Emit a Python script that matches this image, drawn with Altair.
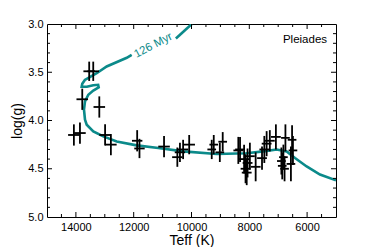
import altair as alt
import pandas as pd

# ---- data ----
# Stars: Teff (K), log(g), and their errors
star_teff = [13540, 13400, 13780, 13190, 14070, 13860, 12990, 12790, 11880, 11800,
             10950, 10490, 10400, 10290, 10080, 9300, 9230, 9020, 8920,
             8380, 8320, 8180, 8130, 8090, 8060, 7980, 7780,
             7560, 7480, 7400, 7290, 7080,
             6890, 6860, 6820, 6780, 6750, 6560, 6520, 6490]
star_logg = [3.49, 3.49, 3.78, 3.86, 4.15, 4.13, 4.15, 4.25, 4.21, 4.29,
             4.27, 4.38, 4.33, 4.30, 4.25, 4.30, 4.25, 4.33, 4.22,
             4.31, 4.30, 4.40, 4.50, 4.54, 4.44, 4.37, 4.48,
             4.39, 4.30, 4.24, 4.21, 4.17,
             4.42, 4.47, 4.38, 4.50, 4.18, 4.45, 4.20, 4.31]
star_eteff = [200, 200, 200, 200, 200, 200, 200, 200, 180, 180,
              200, 180, 180, 180, 200, 150, 150, 150, 150,
              170, 170, 170, 170, 170, 170, 170, 170,
              170, 170, 170, 170, 170,
              150, 150, 150, 150, 150, 150, 150, 150]
star_elogg = [0.10, 0.10, 0.11, 0.11, 0.11, 0.11, 0.11, 0.11, 0.11, 0.10,
              0.11, 0.10, 0.10, 0.10, 0.10, 0.10, 0.10, 0.10, 0.10,
              0.14, 0.13, 0.15, 0.15, 0.13, 0.15, 0.14, 0.15,
              0.12, 0.14, 0.13, 0.11, 0.13,
              0.14, 0.14, 0.13, 0.13, 0.14, 0.18, 0.15, 0.15]

# 126 Myr isochrone, two pieces (gap where the label sits)
iso1_teff = [9990, 10540]
iso1_logg = [3.00, 3.15]
iso2_teff = [12070, 12240, 12935, 13280, 13520, 13690, 13780, 13800, 13620, 13400,
             13230, 13211, 13398, 13571, 13685, 13720, 13685, 13626, 13398, 13052,
             12588, 11896, 11149, 10284, 9128, 8093, 7516, 7053, 6707, 6419,
             6015, 5554, 5000]
iso2_logg = [3.32, 3.35, 3.44, 3.51, 3.55, 3.58, 3.62, 3.65, 3.65, 3.635,
             3.63, 3.657, 3.69, 3.733, 3.802, 3.888, 3.992, 4.044, 4.113, 4.165,
             4.217, 4.258, 4.285, 4.32, 4.347, 4.34, 4.32, 4.30, 4.32, 4.389,
             4.476, 4.56, 4.62]

iso_label = "126 Myr"
iso_label_teff = 11320
iso_label_logg = 3.225
cluster_name = "Pleiades"
cluster_teff = 5310
cluster_logg = 3.20

x_major = [6000, 8000, 10000, 12000, 14000]
x_minor = [5500, 6500, 7000, 7500, 8500, 9000, 9500, 10500, 11000, 11500,
           12500, 13000, 13500, 14500]
y_major = [3.5, 4.0, 4.5]
y_minor = [3.1, 3.2, 3.3, 3.4, 3.6, 3.7, 3.8, 3.9, 4.1, 4.2, 4.3, 4.4,
           4.6, 4.7, 4.8, 4.9]
y_labels = [3.0, 3.5, 4.0, 4.5, 5.0]

# ---- build tables ----
W, H = 289, 193
TEAL = "#0b8a8a"
FONT = "Liberation Sans"

stars = pd.DataFrame({"teff": star_teff, "logg": star_logg,
                      "et": star_eteff, "eg": star_elogg})
stars["tlo"] = stars.teff - stars.et
stars["thi"] = stars.teff + stars.et
stars["glo"] = stars.logg - stars.eg
stars["ghi"] = stars.logg + stars.eg

iso = pd.concat([
    pd.DataFrame({"teff": iso1_teff, "logg": iso1_logg, "seg": "a",
                  "i": range(len(iso1_teff))}),
    pd.DataFrame({"teff": iso2_teff, "logg": iso2_logg, "seg": "b",
                  "i": range(len(iso2_teff))}),
])

xs = alt.Scale(domain=[5000, 15000], reverse=True, nice=False, zero=False)
ys = alt.Scale(domain=[3.0, 5.0], reverse=True, nice=False, zero=False)

x_axis = alt.Axis(title="Teff (K)", values=x_major, format="d", grid=False,
                  ticks=False, tickSize=0, domain=False, labelFontSize=11,
                  labelFont=FONT, labelColor="black", labelPadding=4,
                  titleFont=FONT, titleFontSize=14, titleFontWeight="normal",
                  titleColor="black", titleY=27, titleBaseline="alphabetic")
y_axis = alt.Axis(title="log(g)", values=y_labels, format=".1f", grid=False,
                  ticks=False, tickSize=0, domain=False, labelFontSize=11,
                  labelFont=FONT, labelColor="black", labelPadding=4,
                  titleFont=FONT, titleFontSize=14, titleFontWeight="normal",
                  titleColor="black", titleX=-26, titleY=H / 2,
                  titleAngle=270, titleAlign="center",
                  titleBaseline="alphabetic")


def X(f):
    return alt.X(f, scale=xs, axis=x_axis)


def Y(f):
    return alt.Y(f, scale=ys, axis=y_axis)


line = alt.Chart(iso).mark_line(color=TEAL, strokeWidth=2.6, clip=True).encode(
    x=X("teff:Q"), y=Y("logg:Q"), detail="seg:N", order="i:Q",
)

hbar = alt.Chart(stars).mark_rule(color="black", strokeWidth=1.8).encode(
    x=X("tlo:Q"), x2="thi:Q", y=Y("logg:Q"),
)
vbar = alt.Chart(stars).mark_rule(color="black", strokeWidth=1.8).encode(
    x=X("teff:Q"), y=Y("glo:Q"), y2="ghi:Q",
)

lab = alt.Chart(pd.DataFrame({"t": [iso_label], "x": [iso_label_teff],
                              "y": [iso_label_logg]})).mark_text(
    color=TEAL, fontSize=11.5, font=FONT, angle=332, align="center",
    baseline="middle").encode(x=X("x:Q"), y=Y("y:Q"), text="t:N")

name = alt.Chart(pd.DataFrame({"t": [cluster_name], "x": [cluster_teff],
                               "y": [cluster_logg]})).mark_text(
    color="black", fontSize=11.5, font=FONT, align="right",
    baseline="alphabetic").encode(x=X("x:Q"), y=Y("y:Q"), text="t:N")


def xticks(vals, length):
    d = pd.DataFrame({"v": vals})
    b = alt.Chart(d).mark_rule(color="black", strokeWidth=1).encode(
        x=X("v:Q"), y=alt.value(H), y2=alt.value(H - length))
    t = alt.Chart(d).mark_rule(color="black", strokeWidth=1).encode(
        x=X("v:Q"), y=alt.value(0), y2=alt.value(length))
    return [b, t]


def yticks(vals, length):
    d = pd.DataFrame({"v": vals})
    l = alt.Chart(d).mark_rule(color="black", strokeWidth=1).encode(
        y=Y("v:Q"), x=alt.value(0), x2=alt.value(length))
    r = alt.Chart(d).mark_rule(color="black", strokeWidth=1).encode(
        y=Y("v:Q"), x=alt.value(W), x2=alt.value(W - length))
    return [l, r]


layers = [line, hbar, vbar, lab, name]
layers += xticks(x_major, 5) + xticks(x_minor, 3)
layers += yticks(y_major, 5) + yticks(y_minor, 3)

chart = alt.layer(*layers).properties(
    width=W, height=H,
    autosize=alt.AutoSizeParams(type="none"),
    padding={"left": 39, "top": 16, "right": 30, "bottom": 30},
    background="white",
).configure_view(stroke="black", strokeWidth=1)

chart.save("out.html", embed_options={"renderer": "svg", "actions": False})
